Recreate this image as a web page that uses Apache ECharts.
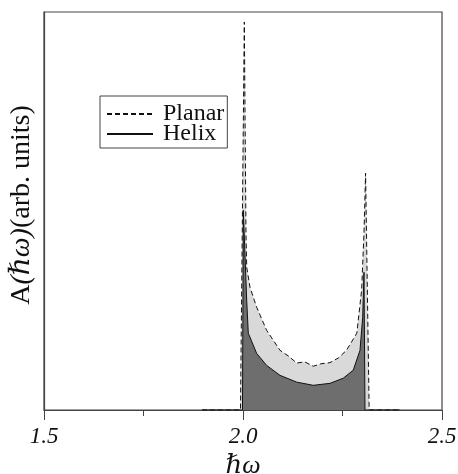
<!DOCTYPE html>
<html>
<head>
<meta charset="utf-8">
<script src="https://cdn.jsdelivr.net/npm/echarts@6/dist/echarts.min.js"></script>
<style>
  html, body { margin: 0; padding: 0; background: #fff; }
  #main { width: 458px; height: 474px; }
</style>
</head>
<body>
<div id="main"></div>
<script>
// x ticks
var xTicks = [1.5, 2.0, 2.5];

// Planar (dashed)
var planarX = [1.897, 1.9937, 2.0033, 2.0075, 2.0093, 2.0176, 2.0344, 2.0595, 2.093, 2.115, 2.135,
               2.155, 2.1766, 2.195, 2.2186, 2.24, 2.260, 2.286, 2.298, 2.304, 2.308, 2.317, 2.394];
var planarY = [0, 0, 0.975, 0.444, 0.359, 0.308, 0.258, 0.200, 0.150, 0.135, 0.118,
               0.121, 0.110, 0.116, 0.119, 0.131, 0.150, 0.193, 0.301, 0.444, 0.595, 0, 0];

// Helix (solid)
var helixX = [1.897, 1.9987, 2.0008, 2.0093, 2.0133, 2.0344, 2.0595, 2.093, 2.135, 2.1766,
              2.2186, 2.252, 2.277, 2.294, 2.3007, 2.304, 2.3065, 2.394];
var helixY = [0, 0, 0.502, 0.276, 0.193, 0.142, 0.112, 0.087, 0.070, 0.062,
              0.067, 0.080, 0.100, 0.150, 0.233, 0.346, 0, 0];

function pairs(xs, ys){
    var out = [];
    for (var i = 0; i < xs.length; i++) out.push([xs[i], ys[i]]);
    return out;
}

var serif = '"Liberation Serif", "DejaVu Serif", serif';
var chart = echarts.init(document.getElementById('main'));

var option = {
    animation: false,
    backgroundColor: '#fff',
    grid: {
        left: 44, right: 16, top: 12, bottom: 64,
        outerBoundsMode: 'none',
        show: true, borderColor: '#444', borderWidth: 1.2
    },
    legend: {
        data: ['Planar', 'Helix'],
        orient: 'vertical',
        left: 100, top: 96,
        itemWidth: 46, itemHeight: 10, itemGap: -4,
        padding: [6, 3, 2, 6],
        borderColor: '#444', borderWidth: 1,
        itemStyle: { color: 'rgba(0,0,0,0)', borderWidth: 0 },
        textStyle: { fontFamily: serif, fontSize: 24, color: '#111', padding: [0, 0, 0, 5] }
    },
    xAxis: {
        type: 'value',
        min: 1.5, max: 2.5, interval: 0.5,
        name: 'ℏω',
        nameLocation: 'middle',
        nameGap: 36,
        nameTextStyle: { fontFamily: serif, fontSize: 26, color: '#111', fontStyle: 'italic' },
        axisLine: { lineStyle: { color: '#444', width: 1.2 } },
        axisTick: { length: 10, lineStyle: { color: '#444' } },
        minorTick: { show: true, splitNumber: 2, length: 6, lineStyle: { color: '#444' } },
        splitLine: { show: false },
        axisLabel: {
            fontFamily: serif, fontSize: 23, fontStyle: 'italic', color: '#111', margin: 15,
            formatter: function(v){ return xTicks.indexOf(v) >= 0 ? v.toFixed(1) : ''; }
        }
    },
    yAxis: {
        type: 'value',
        min: 0, max: 1,
        name: 'A{i|(ℏω)}(arb. units)',
        nameLocation: 'middle',
        nameGap: 8,
        nameRotate: 90,
        nameTextStyle: {
            fontFamily: serif, fontSize: 28, color: '#111', padding: [0, 0, 0, 12],
            rich: { i: { fontFamily: serif, fontSize: 28, fontStyle: 'italic', color: '#111' } }
        },
        axisLine: { show: true, lineStyle: { color: '#444', width: 1.2 } },
        axisTick: { show: false },
        axisLabel: { show: false },
        splitLine: { show: false }
    },
    series: [
        {
            name: 'PlanarArea', type: 'line', data: pairs(planarX, planarY),
            symbol: 'none', lineStyle: { width: 0 },
            areaStyle: { color: '#d9d9d9', opacity: 1 }, z: 1
        },
        {
            name: 'Helix', type: 'line', data: pairs(helixX, helixY),
            symbol: 'none', color: '#111', lineStyle: { color: '#111', width: 1 },
            areaStyle: { color: '#6e6e6e', opacity: 1 }, z: 2
        },
        {
            name: 'Planar', type: 'line', data: pairs(planarX, planarY),
            symbol: 'none', color: '#111', lineStyle: { color: '#111', width: 1, type: [5, 3] }, z: 3
        }
    ]
};
chart.setOption(option);
</script>
</body>
</html>
